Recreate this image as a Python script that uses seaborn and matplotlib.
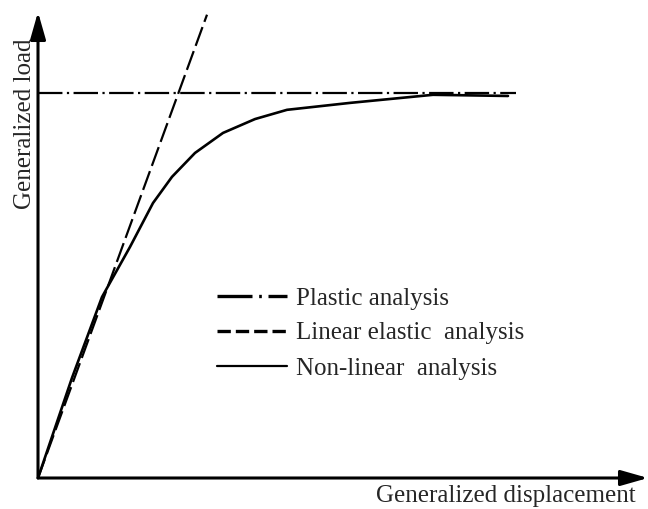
import numpy as np
import pandas as pd
import matplotlib
matplotlib.use("Agg")
import matplotlib.pyplot as plt
from matplotlib.lines import Line2D
import seaborn as sns

# Generalized displacement / load values for each analysis type
nonlinear_disp = [0, 0.34, 0.64, 0.92, 1.15, 1.34, 1.57, 1.85, 2.17, 2.49, 3.12, 3.95, 4.70]
nonlinear_load = [0, 0.260, 0.470, 0.600, 0.714, 0.782, 0.844, 0.896, 0.932, 0.956, 0.974, 0.995, 0.992]
linear_disp = [0, 1.69]
linear_load = [0, 1.203]
plastic_disp = [0, 4.78]
plastic_load = [1.0, 1.0]

labels = ["Plastic analysis", "Linear elastic  analysis", "Non-linear  analysis"]
x_label = "Generalized displacement"
y_label = "Generalized load"

sns.set_style("white")
plt.rcParams["font.family"] = ["Liberation Serif", "DejaVu Serif"]

fig = plt.figure(figsize=(6.48, 5.09), dpi=100)
ax = fig.add_axes([38 / 648, 31 / 509, 610 / 648, 466 / 509])

lw = 1.6
plastic_style = (0, (11, 2, 1, 2))
linear_style = (0, (9, 2.5))

sns.lineplot(x=plastic_disp, y=plastic_load, ax=ax, color="black", lw=lw,
             linestyle=plastic_style, sort=False)
sns.lineplot(x=linear_disp, y=linear_load, ax=ax, color="black", lw=lw,
             linestyle=linear_style, sort=False)
sns.lineplot(x=nonlinear_disp, y=nonlinear_load, ax=ax, color="black", lw=lw + 0.3,
             sort=False)

ax.set_xlim(0, 6.10)
ax.set_ylim(0, 1.21)
ax.set_xticks([])
ax.set_yticks([])
for s in ax.spines.values():
    s.set_visible(False)

# Axes drawn as arrows
arrow_kw = dict(arrowstyle="-|>,head_length=1.65,head_width=0.47", color="black", lw=2.2,
                shrinkA=0, shrinkB=0)
ax.annotate("", xy=(1.0, 0), xytext=(0, 0), xycoords="axes fraction",
            arrowprops=arrow_kw, annotation_clip=False)
ax.annotate("", xy=(0, 1.0), xytext=(0, 0), xycoords="axes fraction",
            arrowprops=arrow_kw, annotation_clip=False)

fs = 18
fig.text(636 / 648, 1 - 496 / 509, x_label, ha="right", va="center", fontsize=fs)
fig.text(25 / 648, 1 - 124 / 509, y_label, ha="center", va="center", fontsize=fs,
         rotation=90)

handles = [
    Line2D([], [], color="black", lw=2.4, linestyle=(0, (10.5, 2, 0.8, 2))),
    Line2D([], [], color="black", lw=2.4, linestyle=(0, (4.0, 1.5))),
    Line2D([], [], color="black", lw=1.6),
]
ax.legend(handles, labels, loc="upper left", bbox_to_anchor=(179 / 610, (478 - 287) / 466),
          frameon=False, fontsize=fs, handlelength=2.8, handletextpad=0.36,
          labelspacing=0.5, borderaxespad=0, borderpad=0)

fig.savefig("out.png", dpi=100)
